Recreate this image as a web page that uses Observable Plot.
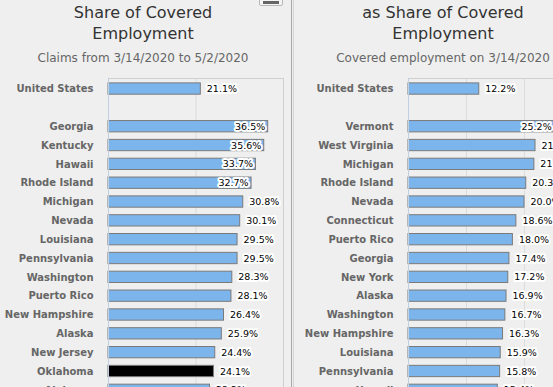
<!DOCTYPE html>
<html>
<head>
<meta charset="utf-8">
<script src="https://cdn.jsdelivr.net/npm/d3@7"></script>
<script src="https://cdn.jsdelivr.net/npm/@observablehq/plot@0.6"></script>
<style>
  html, body { margin: 0; padding: 0; width: 553px; height: 387px; overflow: hidden; background: #efefef; }
  body { position: relative; font-family: "DejaVu Sans", Verdana, sans-serif; }
  .panel { position: absolute; top: 0; height: 387px; overflow: visible; }
  .title { position: absolute; left: 0; top: -19px; font-size: 16px; line-height: 21px; color: #333; text-align: center; white-space: nowrap; }
  .subtitle { position: absolute; left: 0; top: 52px; font-size: 12px; line-height: 12px; color: #666; text-align: center; white-space: nowrap; }
  .plot { position: absolute; top: 77px; }
  .sep1 { position: absolute; left: 291px; top: 0; width: 1px; height: 387px; background: #a8a8a8; }
  .sep2 { position: absolute; left: 293px; top: 0; width: 1px; height: 387px; background: #d4d4d4; }
  .btn { position: absolute; left: 259px; top: -14px; width: 22px; height: 18px; border: 1px solid #b8b8b8; border-radius: 2px; background: #f4f4f4; }
  .btn i { position: absolute; left: 3px; right: 3px; bottom: 1px; height: 3px; background: #666; }
</style>
</head>
<body>
<div class="panel" id="left" style="left:0;width:291px">
  <div class="title" style="width:286px">Initial Claims as<br>Share of Covered<br>Employment</div>
  <div class="subtitle" style="width:286px">Claims from 3/14/2020 to 5/2/2020</div>
  <div class="btn"><i></i></div>
</div>
<div class="sep1"></div>
<div class="sep2"></div>
<div class="panel" id="right" style="left:294px;width:300px">
  <div class="title" style="width:298px">Insured Unemployment<br>as Share of Covered<br>Employment</div>
  <div class="subtitle" style="width:298px">Covered employment on 3/14/2020</div>
</div>
<script>
// ---- Data ----
const leftNames = ["United States", "Georgia", "Kentucky", "Hawaii", "Rhode Island", "Michigan", "Nevada",
  "Louisiana", "Pennsylvania", "Washington", "Puerto Rico", "New Hampshire", "Alaska", "New Jersey",
  "Oklahoma", "Alabama"];
const leftValues = [21.1, 36.5, 35.6, 33.7, 32.7, 30.8, 30.1, 29.5, 29.5, 28.3, 28.1, 26.4, 25.9, 24.4, 24.1, 23.2];
const leftHighlight = ["Oklahoma"];
const leftTicks = [0, 20, 40];

const rightNames = ["United States", "Vermont", "West Virginia", "Michigan", "Rhode Island", "Nevada",
  "Connecticut", "Puerto Rico", "Georgia", "New York", "Alaska", "Washington", "New Hampshire",
  "Louisiana", "Pennsylvania", "Hawaii"];
const rightValues = [12.2, 25.2, 21.9, 21.7, 20.3, 20.0, 18.6, 18.0, 17.4, 17.2, 16.9, 16.7, 16.3, 15.9, 15.8, 15.4];
const rightHighlight = [];
const rightTicks = [0, 10, 20, 30];

const spacer = "";

function makePanel({names, values, highlight, ticks, width, marginLeft, marginRight}) {
  const data = names.map((name, i) => ({name, value: values[i]}));
  const domainY = [names[0], spacer, ...names.slice(1)];
  const xMax = ticks[ticks.length - 1];
  const pxPerUnit = (width - marginLeft - marginRight) / xMax;
  const labelRoom = 36; // px needed after bar end for an outside label
  const isInside = d => d.value * pxPerUnit + labelRoom > (width - marginLeft - marginRight);
  const step = 18.83, pi = 0.4, po = 0.26, marginTop = 1;
  const height = marginTop + step * (domainY.length - pi + 2 * po);
  const fmt = d => d.value.toFixed(1) + "%";
  return Plot.plot({
    width, height,
    marginLeft, marginRight, marginTop, marginBottom: 0,
    style: {background: "transparent", fontFamily: "DejaVu Sans, Verdana, sans-serif", fontSize: "10px", overflow: "visible"},
    x: {domain: [0, xMax], axis: null},
    y: {domain: domainY, paddingInner: pi, paddingOuter: po, round: false, axis: null},
    marks: [
      Plot.gridX(ticks, {stroke: "#dcdcdc", strokeOpacity: 1}),
      Plot.frame({stroke: "#cfcfcf"}),
      Plot.barX(data, {
        x: "value", y: "name",
        fill: d => highlight.includes(d.name) ? "#000000" : "#7cb5ec",
        stroke: "#7a7a7a", strokeWidth: 1
      }),
      Plot.ruleX([0], {stroke: "#c0d0e0"}),
      Plot.axisY({tickSize: 0, tickPadding: 15, fill: "#666", fontWeight: "bold", fontSize: 10, label: null}),
      Plot.text(data.filter(d => !isInside(d)), {
        x: "value", y: "name", text: fmt, textAnchor: "start", dx: 6,
        fill: "#000", stroke: "white", strokeWidth: 4, fontSize: 9.5
      }),
      Plot.text(data.filter(isInside), {
        x: "value", y: "name", text: fmt, textAnchor: "end", dx: -3,
        fill: "#000", stroke: "white", strokeWidth: 4, fontSize: 9.5
      })
    ]
  });
}

const leftPlot = makePanel({names: leftNames, values: leftValues, highlight: leftHighlight, ticks: leftTicks,
  width: 291, marginLeft: 108, marginRight: 8});
leftPlot.classList.add("plot");
leftPlot.style.left = "0px";
document.getElementById("left").appendChild(leftPlot);

const rightPlot = makePanel({names: rightNames, values: rightValues, highlight: rightHighlight, ticks: rightTicks,
  width: 298, marginLeft: 114, marginRight: 10});
rightPlot.classList.add("plot");
rightPlot.style.left = "0px";
document.getElementById("right").appendChild(rightPlot);
</script>
</body>
</html>
